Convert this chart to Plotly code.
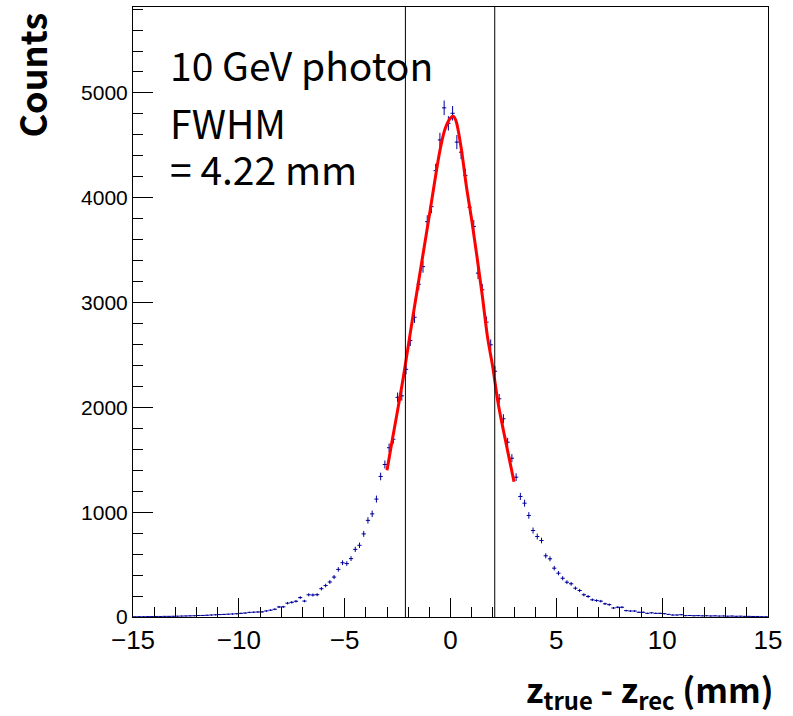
import numpy as np
import plotly.graph_objects as go

# ---- data ----
bin_low = -15.0
bin_width = 0.2
counts = [
    2, 3, 3, 4, 4, 5, 5, 6, 6, 7,
    8, 9, 10, 11, 12, 14, 15, 17, 19, 21,
    23, 25, 27, 29, 31, 35, 38, 44, 46, 48,
    49, 58, 65, 74, 96, 97, 132, 140, 150, 185,
    152, 212, 210, 213, 270, 300, 334, 381, 454, 518,
    510, 557, 645, 684, 793, 922, 984, 1125, 1341, 1455,
    1615, 1696, 2096, 2110, 2363, 2637, 2860, 3175, 3343, 3772,
    3915, 4259, 4552, 4858, 4710, 4806, 4531, 4435, 4213, 3910,
    3726, 3281, 3122, 2813, 2597, 2345, 2082, 1891, 1668, 1515,
    1334, 1150, 1086, 969, 825, 768, 730, 584, 555, 466,
    418, 370, 332, 317, 275, 253, 212, 196, 164, 157,
    151, 126, 118, 86, 93, 93, 61, 57, 57, 45,
    45, 35, 40, 35, 35, 32, 25, 19, 19, 22,
    13, 14, 12, 13, 11, 12, 10, 11, 9, 10,
    8, 9, 7, 8, 6, 6, 5, 5, 3, 2,
]
fit_x = [-3.0, -2.75, -2.5, -2.25, -2.0, -1.75, -1.5, -1.25, -1.0, -0.75, -0.5,
         -0.25, 0.0, 0.13, 0.25, 0.5, 0.75, 1.0, 1.25, 1.5, 1.75, 2.0, 2.25,
         2.5, 2.75, 3.0]
fit_y = [1400, 1690, 1970, 2260, 2580, 2900, 3210, 3520, 3830, 4150, 4450,
         4660, 4760, 4778, 4740, 4480, 4110, 3790, 3440, 3070, 2670, 2380, 2040,
         1780, 1535, 1290]
fwhm_edges = [-2.13, 2.09]
x_ticks = [-15, -10, -5, 0, 5, 10, 15]
y_ticks = [0, 1000, 2000, 3000, 4000, 5000]
text_lines = ["10 GeV photon", "FWHM", "= 4.22 mm"]

centers = bin_low + bin_width * (np.arange(len(counts)) + 0.5)
errs = np.sqrt(np.array(counts, dtype=float))

navy = "#000099"
tick_font = "Liberation Sans, Arial, sans-serif"
text_font = "Noto Sans CJK KR, Noto Sans, sans-serif"

fig = go.Figure()
fig.add_trace(go.Scatter(
    x=centers, y=counts, mode="markers",
    marker=dict(size=1, color=navy),
    error_x=dict(type="constant", value=bin_width / 2, color=navy, thickness=1, width=0),
    error_y=dict(type="data", array=errs, color=navy, thickness=1, width=0),
    showlegend=False, hoverinfo="skip",
))
fig.add_trace(go.Scatter(
    x=fit_x, y=fit_y, mode="lines",
    line=dict(color="#ff0000", width=3, shape="spline"),
    showlegend=False, hoverinfo="skip",
))

for e in fwhm_edges:
    fig.add_shape(type="line", xref="x", yref="paper", x0=e, x1=e, y0=0, y1=1,
                  line=dict(color="black", width=1))

W, H = 793, 716
ml, mr, mt, mb = 133, 25, 7, 99
pw, ph = W - ml - mr, H - mt - mb

def px_x(p):
    return (p - ml) / pw

def px_y(p):
    return (H - mb - p) / ph

fig.update_layout(
    width=W, height=H,
    margin=dict(l=ml, r=mr, t=mt, b=mb, autoexpand=False),
    paper_bgcolor="white", plot_bgcolor="white",
    xaxis=dict(
        range=[-15, 15], tickvals=x_ticks, ticks="inside", ticklen=19,
        tickwidth=1, tickcolor="black", showline=True, linecolor="black",
        linewidth=1, mirror=True, showgrid=False, zeroline=False,
        minor=dict(dtick=1, tick0=-15, ticks="inside", ticklen=10, tickcolor="black", showgrid=False),
        tickfont=dict(family=tick_font, size=26, color="black"),
    ),
    yaxis=dict(
        range=[0, 5820], tickvals=y_ticks, ticks="inside", ticklen=20,
        tickwidth=1, tickcolor="black", showline=True, linecolor="black",
        linewidth=1, mirror=True, showgrid=False, zeroline=False,
        minor=dict(dtick=200, tick0=0, ticks="inside", ticklen=10, tickcolor="black", showgrid=False),
        tickfont=dict(family=tick_font, size=21, color="black"),
    ),
)

# axis titles
fig.add_annotation(text="Counts", xref="paper", yref="paper",
                   x=px_x(30), y=px_y(10), xanchor="center", yanchor="top",
                   textangle=-90, showarrow=False,
                   font=dict(family=text_font, size=36, color="black", weight="bold"))
fig.add_annotation(text="z<sub>true</sub> - z<sub>rec</sub> (mm)", xref="paper", yref="paper",
                   x=px_x(776), y=px_y(690), xanchor="right", yanchor="middle",
                   showarrow=False,
                   font=dict(family=text_font, size=34, color="black", weight="bold"))

# text block
for t, yp in zip(text_lines, [64, 122, 168]):
    fig.add_annotation(text=t, xref="paper", yref="paper",
                       x=px_x(168), y=px_y(yp), xanchor="left", yanchor="middle",
                       showarrow=False,
                       font=dict(family=text_font, size=39, color="black"))

fig.write_html("out.html",
               config={"displayModeBar": False},
               post_script="document.body.style.margin='0';document.body.style.padding='0';")
